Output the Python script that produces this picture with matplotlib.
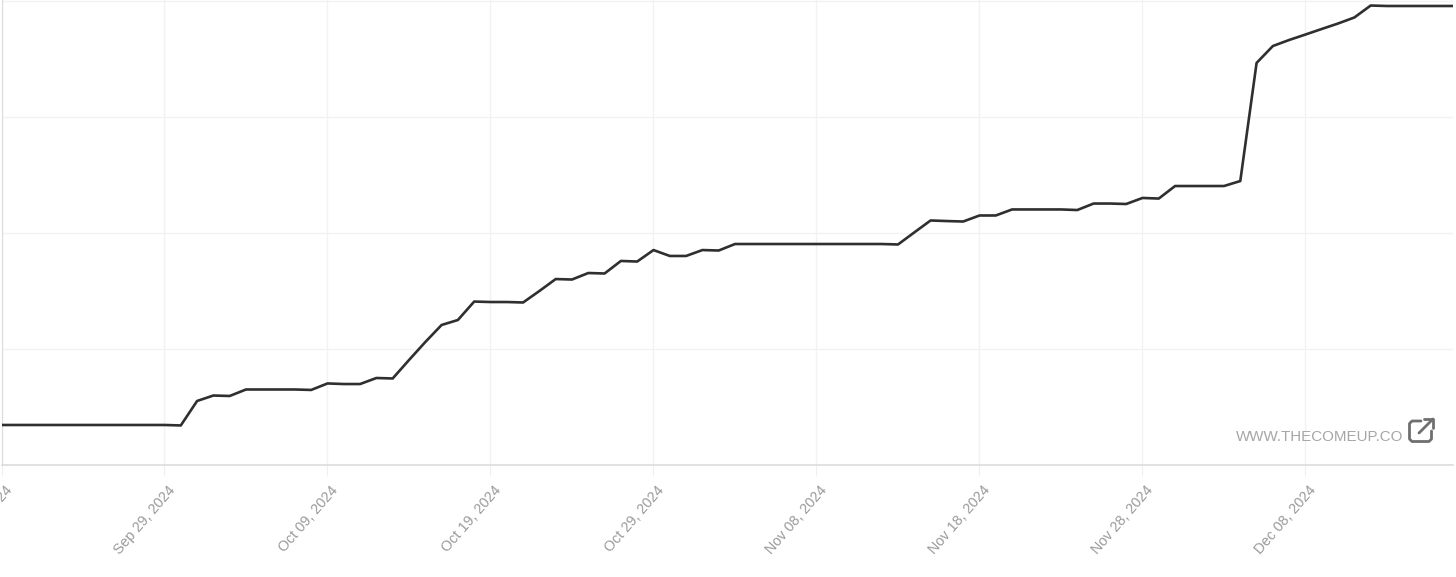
import pandas as pd
import matplotlib
matplotlib.use('Agg')
import matplotlib.pyplot as plt
from matplotlib.lines import Line2D
from matplotlib.transforms import ScaledTranslation

plt.rcParams['font.family'] = ['Liberation Sans', 'DejaVu Sans']

W, H = 1456, 577

dates = pd.date_range("2024-09-19", periods=90, freq="D")
values = [
    .345, .345, .345, .345, .345, .345, .345, .345, .345, .345,
    .345, .341, .552, .599, .595, .651, .651, .651, .651, .647,
    .703, .698, .698, .750, .746, .905, 1.060, 1.207, 1.250, 1.409,
    1.405, 1.405, 1.401, 1.500, 1.603, 1.599, 1.655, 1.651, 1.759, 1.754,
    1.853, 1.802, 1.802, 1.853, 1.849, 1.905, 1.905, 1.905, 1.905, 1.905,
    1.905, 1.905, 1.905, 1.905, 1.905, 1.901, 2.005, 2.108, 2.103, 2.099,
    2.151, 2.151, 2.203, 2.203, 2.203, 2.203, 2.198, 2.254, 2.254, 2.250,
    2.302, 2.297, 2.405, 2.405, 2.405, 2.405, 2.448, 3.466, 3.612, 3.664,
    3.711, 3.759, 3.806, 3.858, 3.961, 3.957, 3.957, 3.957, 3.957, 3.957,
]
tick_dates = pd.date_range("2024-09-19", "2024-12-08", freq="10D")
grid_levels = [0, 1, 2, 3, 4]

fig = plt.figure(figsize=(W / 100, H / 100), dpi=100)
ax = fig.add_axes([1.5 / W, 1 - 465 / H, (1453 - 1.5) / W, 465 / H])

ax.plot(dates, values, color="#2f2f2f", lw=1.9, solid_joinstyle="round", zorder=3)

ax.set_xlim(dates[0], dates[0] + pd.Timedelta(days=89.05))
ax.set_ylim(0, 465 / 116)
ax.set_yticks(grid_levels)
ax.set_xticks(tick_dates)
ax.set_xticklabels([d.strftime("%b %d, %Y") for d in tick_dates], rotation=49,
                   ha="right", va="top", rotation_mode="anchor",
                   fontsize=10.4, color="#9a9a9a")
ax.tick_params(axis="y", left=False, labelleft=False)
ax.tick_params(axis="x", length=8, width=0.8, color="#efefef", pad=5)
ax.grid(True, color="#f2f2f2", lw=1)
ax.set_axisbelow(True)
for side in ["top", "right"]:
    ax.spines[side].set_visible(False)
ax.spines["left"].set_color("#dcdcdc")
ax.spines["bottom"].set_color("#d9d9d9")
ax.spines["bottom"].set_linewidth(1.1)
# nudge the rotated labels so their ends sit by the ticks
for lab in ax.get_xticklabels():
    lab.set_transform(lab.get_transform() + ScaledTranslation(3 / 100, 0, fig.dpi_scale_trans))

# watermark, placed in pixels
over = fig.add_axes([0, 0, 1, 1])
over.set_xlim(0, W)
over.set_ylim(H, 0)
over.axis("off")
over.patch.set_alpha(0)
over.text(1403, 437, "WWW.THECOMEUP.CO", ha="right", va="center", fontsize=10.9,
          color="#a6a6a6")
icon = "#6f6f6f"
over.add_line(Line2D([1421, 1412, 1409.5, 1409.5, 1412, 1429, 1431.5, 1431.5],
                     [421, 421, 423.5, 439, 441.5, 441.5, 439, 431],
                     color=icon, lw=2, solid_capstyle="round"))
over.add_line(Line2D([1419, 1433], [433, 419], color=icon, lw=2, solid_capstyle="round"))
over.add_line(Line2D([1424, 1433, 1433], [418.5, 418.5, 428], color=icon, lw=2,
                     solid_capstyle="round"))

fig.savefig("out.png", dpi=100, facecolor="white")
